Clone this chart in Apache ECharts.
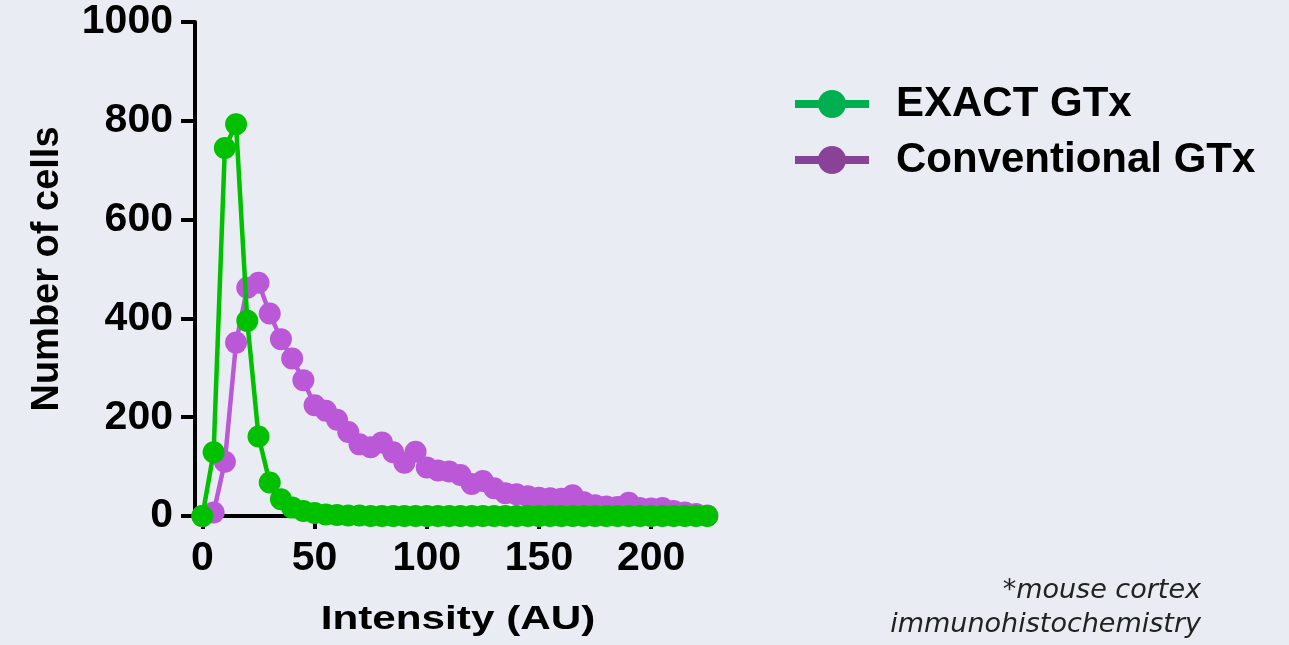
<!DOCTYPE html>
<html>
<head>
<meta charset="utf-8">
<script src="https://cdn.jsdelivr.net/npm/echarts@6/dist/echarts.min.js"></script>
<style>
  html, body { margin: 0; padding: 0; background: #E9ECF2; }
  #chart { width: 1289px; height: 645px; }
</style>
</head>
<body>
<div id="chart"></div>
<script>
// intensity bins (AU), step 5
const intensity = [];
for (let i = 0; i <= 225; i += 5) intensity.push(i);

const exactCells = [0, 129, 745, 793, 395, 161, 68, 34, 17, 10,
  6, 3, 2, 1, 1, 0, 0, 0, 0, 0,
  0, 0, 0, 0, 0, 0, 0, 0, 0, 0,
  0, 0, 0, 0, 0, 0, 0, 0, 0, 0,
  0, 0, 0, 0, 0, 0];

const conventionalCells = [0, 7, 110, 351, 462, 472, 410, 358, 319, 275,
  224, 213, 195, 170, 145, 139, 149, 129, 108, 130,
  98, 92, 90, 83, 65, 71, 56, 46, 44, 40,
  37, 36, 35, 42, 28, 22, 19, 18, 27, 16,
  15, 16, 10, 7, 4, 1];

const xTicks = [0, 50, 100, 150, 200];
const seriesNames = ['EXACT GTx', 'Conventional GTx'];

const pairs = vals => intensity.map((x, i) => [x, vals[i]]);

const labelFont = { fontFamily: 'Liberation Sans', fontWeight: 'bold', fontSize: 41, color: '#000' };

const chart = echarts.init(document.getElementById('chart'));
chart.setOption({
  animation: false,
  backgroundColor: '#E9ECF2',
  grid: { left: 195, top: 22, right: 575, bottom: 129 },
  xAxis: {
    type: 'value',
    min: -3.3,
    max: 228,
    splitLine: { show: false },
    axisLine: { show: true, onZero: false, lineStyle: { color: '#000', width: 4 } },
    axisTick: { show: true, length: 13, lineStyle: { color: '#000', width: 4 }, customValues: xTicks },
    axisLabel: Object.assign({ margin: 22, customValues: xTicks }, labelFont)
  },
  yAxis: {
    type: 'value',
    min: 0,
    max: 1000,
    interval: 200,
    name: 'Number of cells',
    nameLocation: 'middle',
    nameGap: 128,
    nameTextStyle: { fontFamily: 'Liberation Sans', fontWeight: 'bold', fontSize: 38, color: '#000' },
    splitLine: { show: false },
    axisLine: { show: true, onZero: false, lineStyle: { color: '#000', width: 4 } },
    axisTick: { show: true, length: 14, lineStyle: { color: '#000', width: 4 } },
    axisLabel: Object.assign({ margin: 22, formatter: v => String(v) }, labelFont)
  },
  legend: {
    left: 791,
    top: 83,
    padding: 0,
    orient: 'vertical',
    itemWidth: 74,
    itemHeight: 35,
    itemGap: 14,
    textStyle: { fontFamily: 'Liberation Sans', fontWeight: 'bold', fontSize: 42, lineHeight: 42, color: '#000', padding: [0, 0, 0, 22] },
    data: [
      { name: seriesNames[0], itemStyle: { color: '#00B050' }, lineStyle: { color: '#00B050', width: 8 } },
      { name: seriesNames[1], itemStyle: { color: '#884399' }, lineStyle: { color: '#884399', width: 8 } }
    ]
  },
  graphic: [
    {
      type: 'text',
      x: 458,
      y: 603,
      scaleX: 1.28,
      style: {
        text: 'Intensity (AU)',
        font: 'bold 33px "Liberation Sans"',
        lineHeight: 33,
        fill: '#000',
        textAlign: 'center',
        verticalAlign: 'top'
      }
    },
    {
      type: 'text',
      x: 1201,
      y: 574,
      style: {
        text: '*mouse cortex\nimmunohistochemistry',
        font: 'italic 27px "DejaVu Sans"',
        lineHeight: 34,
        fill: '#222',
        textAlign: 'right',
        verticalAlign: 'top'
      }
    }
  ],
  series: [
    {
      name: seriesNames[1],
      type: 'line',
      data: pairs(conventionalCells),
      clip: false,
      symbol: 'circle',
      symbolSize: 22,
      color: '#BA58D7',
      lineStyle: { width: 4.5, color: '#BA58D7' },
      itemStyle: { color: '#BA58D7' },
      z: 2
    },
    {
      name: seriesNames[0],
      type: 'line',
      data: pairs(exactCells),
      clip: false,
      symbol: 'circle',
      symbolSize: 22,
      color: '#00C000',
      lineStyle: { width: 4.5, color: '#00C000' },
      itemStyle: { color: '#00C000' },
      z: 3
    }
  ]
});
</script>
</body>
</html>
